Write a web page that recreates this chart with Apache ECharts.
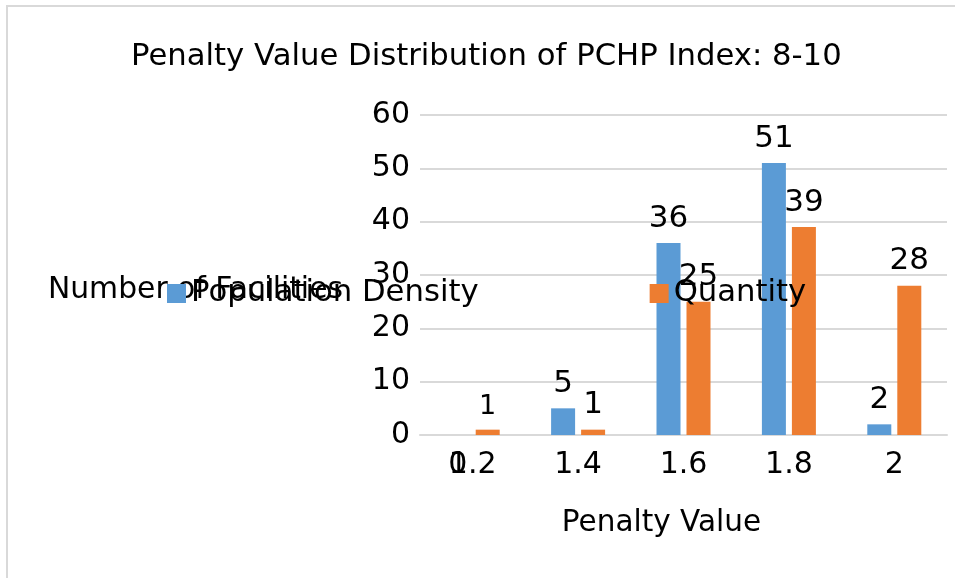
<!DOCTYPE html>
<html>
<head>
<meta charset="utf-8">
<script src="https://cdn.jsdelivr.net/npm/echarts@6/dist/echarts.min.js"></script>
<style>
  html, body { margin: 0; padding: 0; background: #fff; }
  #main { width: 955px; height: 578px; }
</style>
</head>
<body>
<div id="main"></div>
<script>
const categories = ['1.2', '1.4', '1.6', '1.8', '2'];
const populationDensity = [0, 5, 36, 51, 2];
const quantity = [1, 1, 25, 39, 28];

const FONT = '"DejaVu Sans", sans-serif';

const chart = echarts.init(document.getElementById('main'), null, { renderer: 'canvas' });

const labelStyle = {
  show: true,
  position: 'top',
  distance: 9,
  fontSize: 31,
  fontFamily: FONT,
  color: '#000'
};

const options = {
  backgroundColor: '#fff',
  animation: false,
  color: ['#5B9BD5', '#ED7D31'],
  title: {
    text: 'Penalty Value Distribution of PCHP Index: 8-10',
    left: 131,
    top: 42,
    padding: 0,
    textStyle: { fontSize: 30.7, fontWeight: 'normal', fontFamily: FONT, color: '#000' }
  },
  graphic: [{
    type: 'rect',
    shape: { x: 7, y: 6, width: 1200, height: 1000 },
    style: { fill: null, stroke: '#D9D9D9', lineWidth: 2 },
    silent: true
  }],
  legend: {
    left: 167,
    top: 278,
    padding: 0,
    itemWidth: 19,
    itemHeight: 19,
    itemGap: 171,
    icon: 'rect',
    textStyle: { fontSize: 30.7, fontFamily: FONT, color: '#000' },
    data: ['Population Density', 'Quantity']
  },
  grid: { left: 420, right: 8, top: 115, bottom: 143 },
  xAxis: {
    type: 'category',
    data: categories,
    name: 'Penalty Value',
    nameLocation: 'middle',
    nameGap: 73,
    nameTextStyle: { fontSize: 29.5, fontFamily: FONT, color: '#000', padding: [0, 44, 0, 0] },
    axisLine: { lineStyle: { color: '#D9D9D9', width: 2 } },
    axisTick: { show: false },
    axisLabel: { fontSize: 30, fontFamily: FONT, color: '#000', margin: 15 }
  },
  yAxis: {
    type: 'value',
    min: 0,
    max: 60,
    interval: 10,
    name: 'Number of Facilities',
    nameLocation: 'middle',
    nameRotate: 0,
    nameGap: 77,
    nameTextStyle: { fontSize: 29.8, fontFamily: FONT, color: '#000', verticalAlign: 'top' },
    axisLine: { show: false },
    axisTick: { show: false },
    axisLabel: { fontSize: 30, fontFamily: FONT, color: '#000', margin: 10 },
    splitLine: { lineStyle: { color: '#D9D9D9', width: 2 } }
  },
  series: [
    {
      name: 'Population Density',
      type: 'bar',
      barWidth: 24,
      barGap: '25%',
      label: labelStyle,
      data: populationDensity.map((v, i) => i === 0
        ? { value: v, label: { position: 'bottom', distance: 15, fontSize: 30 } }
        : v)
    },
    {
      name: 'Quantity',
      type: 'bar',
      barWidth: 24,
      label: labelStyle,
      data: quantity.map((v, i) => i === 0
        ? { value: v, label: { fontSize: 27 } }
        : v)
    }
  ]
};

chart.setOption(options);
</script>
</body>
</html>
